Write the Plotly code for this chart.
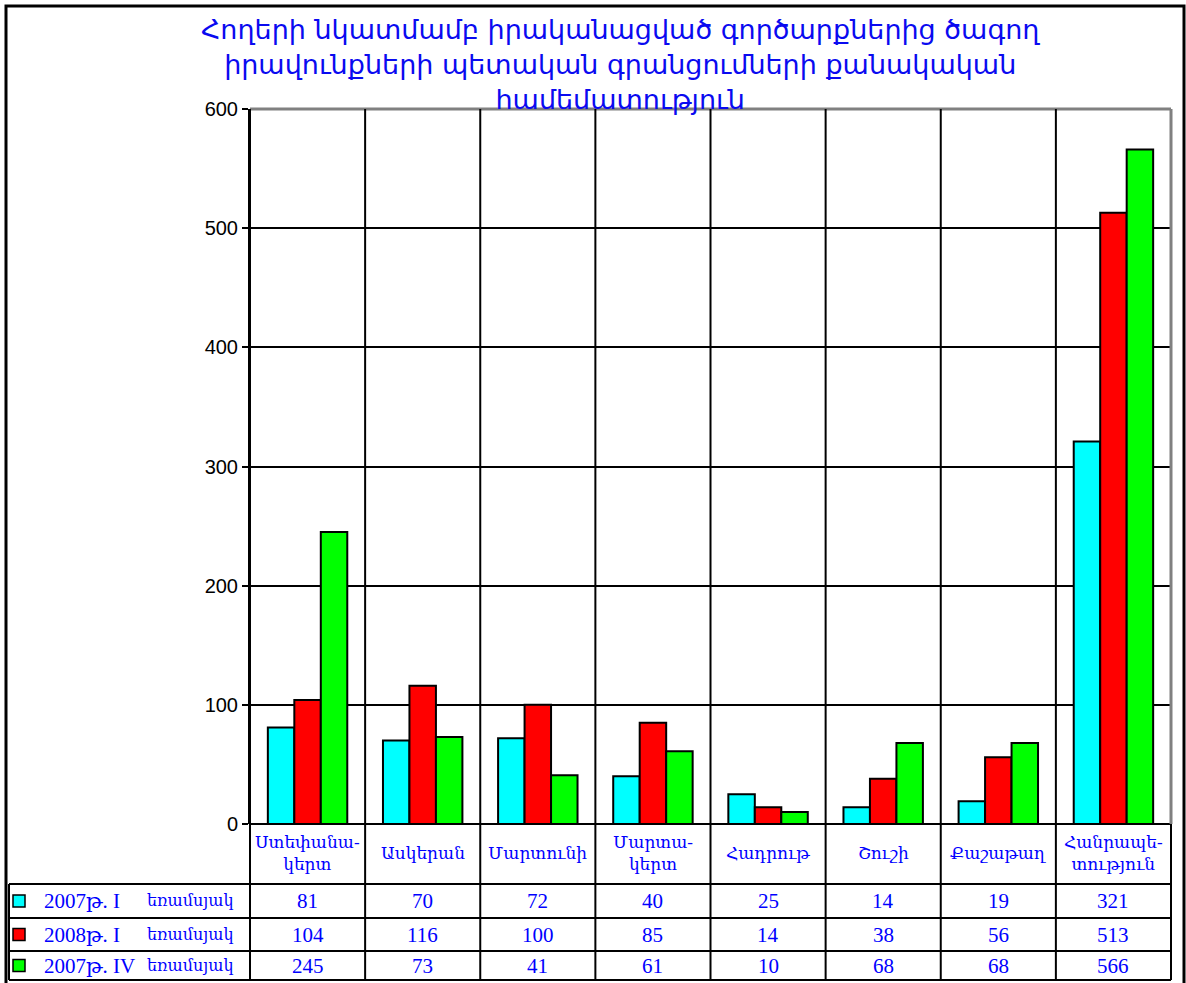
import plotly.graph_objects as go

categories = ["Ստեփանա-<br>կերտ", "Ասկերան", "Մարտունի", "Մարտա-<br>կերտ",
              "Հադրութ", "Շուշի", "Քաշաթաղ", "Հանրապե-<br>տություն"]
series_names = ["2007թ. I", "2008թ. I", "2007թ. IV"]
series_suffix = "եռամսյակ"
s2007_q1 = [81, 70, 72, 40, 25, 14, 19, 321]
s2008_q1 = [104, 116, 100, 85, 14, 38, 56, 513]
s2007_q4 = [245, 73, 41, 61, 10, 68, 68, 566]
series_values = [s2007_q1, s2008_q1, s2007_q4]
colors = ["#00FFFF", "#FF0000", "#00FF00"]
y_ticks = [0, 100, 200, 300, 400, 500, 600]
title_text = ("Հողերի նկատմամբ իրականացված գործարքներից ծագող<br>"
              "իրավունքների պետական գրանցումների քանակական<br>"
              "համեմատություն")

W, H = 1186, 983
L, R, T, B = 250, 15, 109, 159
PW = W - L - R
PH = H - T - B


def px(x):
    return (x - L) / PW


def py(y):
    return (H - B - y) / PH


n = len(categories)
xs = list(range(n))

fig = go.Figure()
for name, vals, col in zip(series_names, series_values, colors):
    fig.add_trace(go.Bar(x=xs, y=vals, name=name, marker=dict(color=col, line=dict(color="black", width=2))))

shapes = []
# outer frame
shapes.append(dict(type="rect", xref="paper", yref="paper", x0=px(6), x1=px(1184), y0=py(1000), y1=py(6),
                   line=dict(color="black", width=3)))
# gray top and right borders of plot
shapes.append(dict(type="line", xref="paper", yref="paper", x0=0, x1=1, y0=1, y1=1, line=dict(color="#808080", width=3)))
shapes.append(dict(type="line", xref="paper", yref="paper", x0=1, x1=1, y0=0, y1=1, line=dict(color="#808080", width=3)))
# category separators through plot and table
for k in range(n):
    shapes.append(dict(type="line", xref="paper", yref="paper", x0=k / n, x1=k / n, y0=py(980), y1=1,
                       line=dict(color="black", width=2)))
shapes.append(dict(type="line", xref="paper", yref="paper", x0=1, x1=1, y0=py(980), y1=0,
                   line=dict(color="black", width=2)))
# table horizontal lines
row_lines = [884, 918, 951, 980]
for yl in row_lines:
    shapes.append(dict(type="line", xref="paper", yref="paper", x0=px(9), x1=1, y0=py(yl), y1=py(yl),
                       line=dict(color="black", width=2)))
shapes.append(dict(type="line", xref="paper", yref="paper", x0=px(9), x1=px(9), y0=py(980), y1=py(884),
                   line=dict(color="black", width=2)))
# legend squares
for i, col in enumerate(colors):
    yc = (row_lines[i] + row_lines[i + 1]) / 2
    shapes.append(dict(type="rect", xref="paper", yref="paper", x0=px(13), x1=px(25), y0=py(yc + 6), y1=py(yc - 6),
                       fillcolor=col, line=dict(color="black", width=1.5)))

annotations = []
annotations.append(dict(text=title_text, xref="paper", yref="paper", x=px(620), y=py(12), xanchor="center",
                        yanchor="top", showarrow=False,
                        font=dict(family="DejaVu Sans", size=27, color="#0a0af0")))
serif = "Liberation Serif, DejaVu Serif"
for i, c in enumerate(categories):
    annotations.append(dict(text=c, xref="paper", yref="paper", x=(i + 0.5) / n, y=py(854), xanchor="center",
                            yanchor="middle", showarrow=False,
                            font=dict(family=serif, size=17, color="#0000ff")))
for r, (name, vals) in enumerate(zip(series_names, series_values)):
    yc = (row_lines[r] + row_lines[r + 1]) / 2
    annotations.append(dict(text=name, xref="paper", yref="paper", x=px(42), y=py(yc), xanchor="left",
                            yanchor="middle", showarrow=False, font=dict(family=serif, size=21, color="#0000ff")))
    annotations.append(dict(text=series_suffix, xref="paper", yref="paper", x=px(145), y=py(yc), xanchor="left",
                            yanchor="middle", showarrow=False, font=dict(family=serif, size=16, color="#0000ff")))
    for i, v in enumerate(vals):
        annotations.append(dict(text=str(v), xref="paper", yref="paper", x=(i + 0.5) / n, y=py(yc),
                                xanchor="center", yanchor="middle", showarrow=False,
                                font=dict(family=serif, size=21, color="#0000ff")))

fig.update_layout(
    width=W, height=H,
    margin=dict(l=L, r=R, t=T, b=B, pad=0),
    paper_bgcolor="white", plot_bgcolor="white",
    barmode="group", bargap=0.31, bargroupgap=0,
    showlegend=False,
    shapes=shapes, annotations=annotations,
    xaxis=dict(range=[-0.5, n - 0.5], showticklabels=False, showgrid=False, zeroline=False,
               showline=False, ticks=""),
    yaxis=dict(range=[0, 600], tickvals=y_ticks, showgrid=True, gridcolor="black", gridwidth=1.5,
               zeroline=True, zerolinecolor="black", zerolinewidth=2,
               showline=True, linecolor="black", linewidth=2, ticks="outside", ticklen=6, tickcolor="black",
               tickwidth=1.5, tickfont=dict(family="Liberation Sans, Arial", size=20, color="black")),
)

fig.write_html("out.html", config={"displayModeBar": False},
               post_script="document.body.style.margin='0';document.body.style.overflow='hidden';")
